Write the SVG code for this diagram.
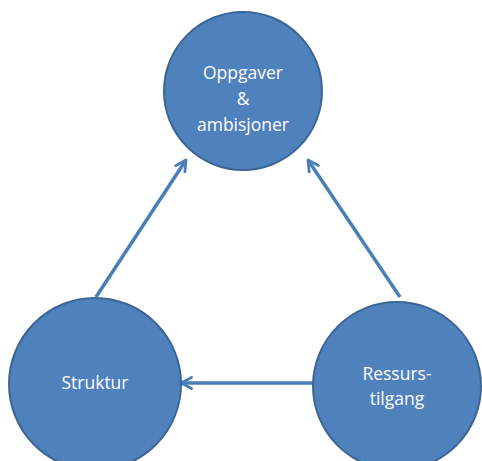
<svg xmlns="http://www.w3.org/2000/svg" width="482" height="461" viewBox="0 0 482 461">
<style>
.node{fill:#4F81BD;stroke:#3B6593;stroke-width:2}
.lbl{fill:#FFFFFF;font-family:"Open Sans","Liberation Sans",sans-serif;font-size:17.5px;text-anchor:middle}
.edge{stroke:#4A7EBB;stroke-width:3.5;fill:none;marker-end:url(#arr)}
</style>
<defs>
<marker id="arr" viewBox="0 0 10 10" refX="8.5" refY="5" markerWidth="4" markerHeight="4" orient="auto" markerUnits="strokeWidth">
<path d="M1,1 L8.5,5 L1,9" fill="none" stroke="#4A7EBB" stroke-width="2" stroke-linecap="round" stroke-linejoin="round"/>
</marker>
</defs>
<g id="connectors">
<line class="edge" x1="96" y1="297" x2="186" y2="160"/>
<line class="edge" x1="400" y1="297" x2="308" y2="160"/>
<line class="edge" x1="313" y1="383" x2="181" y2="383"/>
</g>
<g id="oppgaver">
<circle class="node" cx="243" cy="91" r="79"/>
<text class="lbl" x="243" y="79">Oppgaver</text>
<text class="lbl" x="243" y="105">&amp;</text>
<text class="lbl" x="243" y="131">ambisjoner</text>
</g>
<g id="struktur">
<circle class="node" cx="95" cy="384" r="86"/>
<text class="lbl" x="95" y="389">Struktur</text>
</g>
<g id="ressurstilgang">
<circle class="node" cx="397" cy="386" r="84"/>
<text class="lbl" x="397" y="380">Ressurs-</text>
<text class="lbl" x="397" y="405">tilgang</text>
</g>
</svg>
